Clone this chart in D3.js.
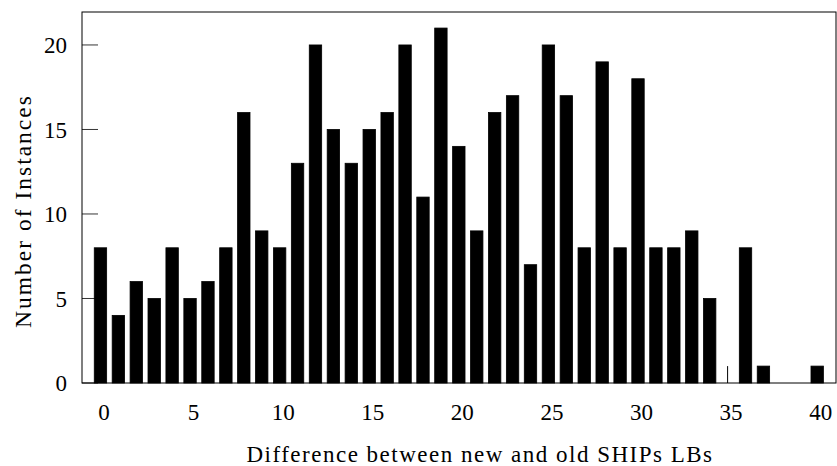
<!DOCTYPE html>
<html>
<head>
<meta charset="utf-8">
<script src="https://cdn.jsdelivr.net/npm/d3@7"></script>
<style>
	body { margin: 0; background: #fff; }
	text { font-family: "Liberation Serif", "DejaVu Serif", serif; fill: #000; }
</style>
</head>
<body>
<svg id="chart" width="837" height="466"></svg>
<script>
// difference value (x) and number of instances (y)
var diffs = d3.range(0, 41);
var counts = [8, 4, 6, 5, 8, 5, 6, 8, 16, 9,
	8, 13, 20, 15, 13, 15, 16, 20, 11, 21,
	14, 9, 16, 17, 7, 20, 17, 8, 19, 8,
	18, 8, 8, 9, 5, 0, 8, 1, 0, 0,
	1];
// stray thin spike drawn at x = 35
var spikes = [{ x: 35, v: 1 }];
var xTicks = [0, 5, 10, 15, 20, 25, 30, 35, 40];
var yTicks = [0, 5, 10, 15, 20];

buildChart();

function buildChart() {
	var svg = d3.select("#chart");

	var left = 82, right = 836, top = 12, bottom = 383;

	var x = d3.scaleLinear()
		.domain([-1.03, 41.05])
		.range([left, right]);

	var y = d3.scaleLinear()
		.domain([0, 21.95])
		.range([bottom, top]);

	var barW = 12.4;

	var data = diffs.map(function(d, i) { return { x: d, v: counts[i] }; });

	svg.append("g")
		.attr("class", "bars")
		.selectAll("rect")
		.data(data)
		.enter().append("rect")
			.attr("x", function(d) { return x(d.x) - barW / 2; })
			.attr("y", function(d) { return y(d.v); })
			.attr("width", barW)
			.attr("height", function(d) { return y(0) - y(d.v); })
			.attr("fill", "#000")
			.attr("stroke", "#000")
			.attr("stroke-width", 0.8);

	svg.append("g")
		.selectAll("line")
		.data(spikes)
		.enter().append("line")
			.attr("x1", function(d) { return x(d.x); })
			.attr("x2", function(d) { return x(d.x); })
			.attr("y1", function(d) { return y(d.v); })
			.attr("y2", y(0))
			.attr("stroke", "#000")
			.attr("stroke-width", 1);

	// y ticks (inward, left side only)
	svg.append("g")
		.selectAll("line")
		.data(yTicks)
		.enter().append("line")
			.attr("x1", left)
			.attr("x2", left + 16)
			.attr("y1", function(d) { return y(d); })
			.attr("y2", function(d) { return y(d); })
			.attr("stroke", "#000")
			.attr("stroke-width", 0.8);

	svg.append("g")
		.selectAll("text")
		.data(yTicks)
		.enter().append("text")
			.attr("x", 67)
			.attr("y", function(d) { return y(d); })
			.attr("dy", "0.35em")
			.attr("text-anchor", "end")
			.style("font-size", "23px")
			.text(function(d) { return d; });

	svg.append("g")
		.selectAll("text")
		.data(xTicks)
		.enter().append("text")
			.attr("x", function(d) { return x(d) + 3.5; })
			.attr("y", 420)
			.attr("text-anchor", "middle")
			.style("font-size", "23px")
			.text(function(d) { return d; });

	// frame
	svg.append("rect")
		.attr("x", left)
		.attr("y", top)
		.attr("width", right - left)
		.attr("height", bottom - top)
		.attr("fill", "none")
		.attr("stroke", "#000")
		.attr("stroke-width", 1);

	svg.append("text")
		.attr("x", 480)
		.attr("y", 462)
		.attr("text-anchor", "middle")
		.style("font-size", "23px")
		.style("letter-spacing", "1.5px")
		.text("Difference between new and old SHIPs LBs");

	svg.append("text")
		.attr("transform", "translate(31,211) rotate(-90)")
		.attr("text-anchor", "middle")
		.style("font-size", "23.5px")
		.style("letter-spacing", "2px")
		.text("Number of Instances");
}
</script>
</body>
</html>
